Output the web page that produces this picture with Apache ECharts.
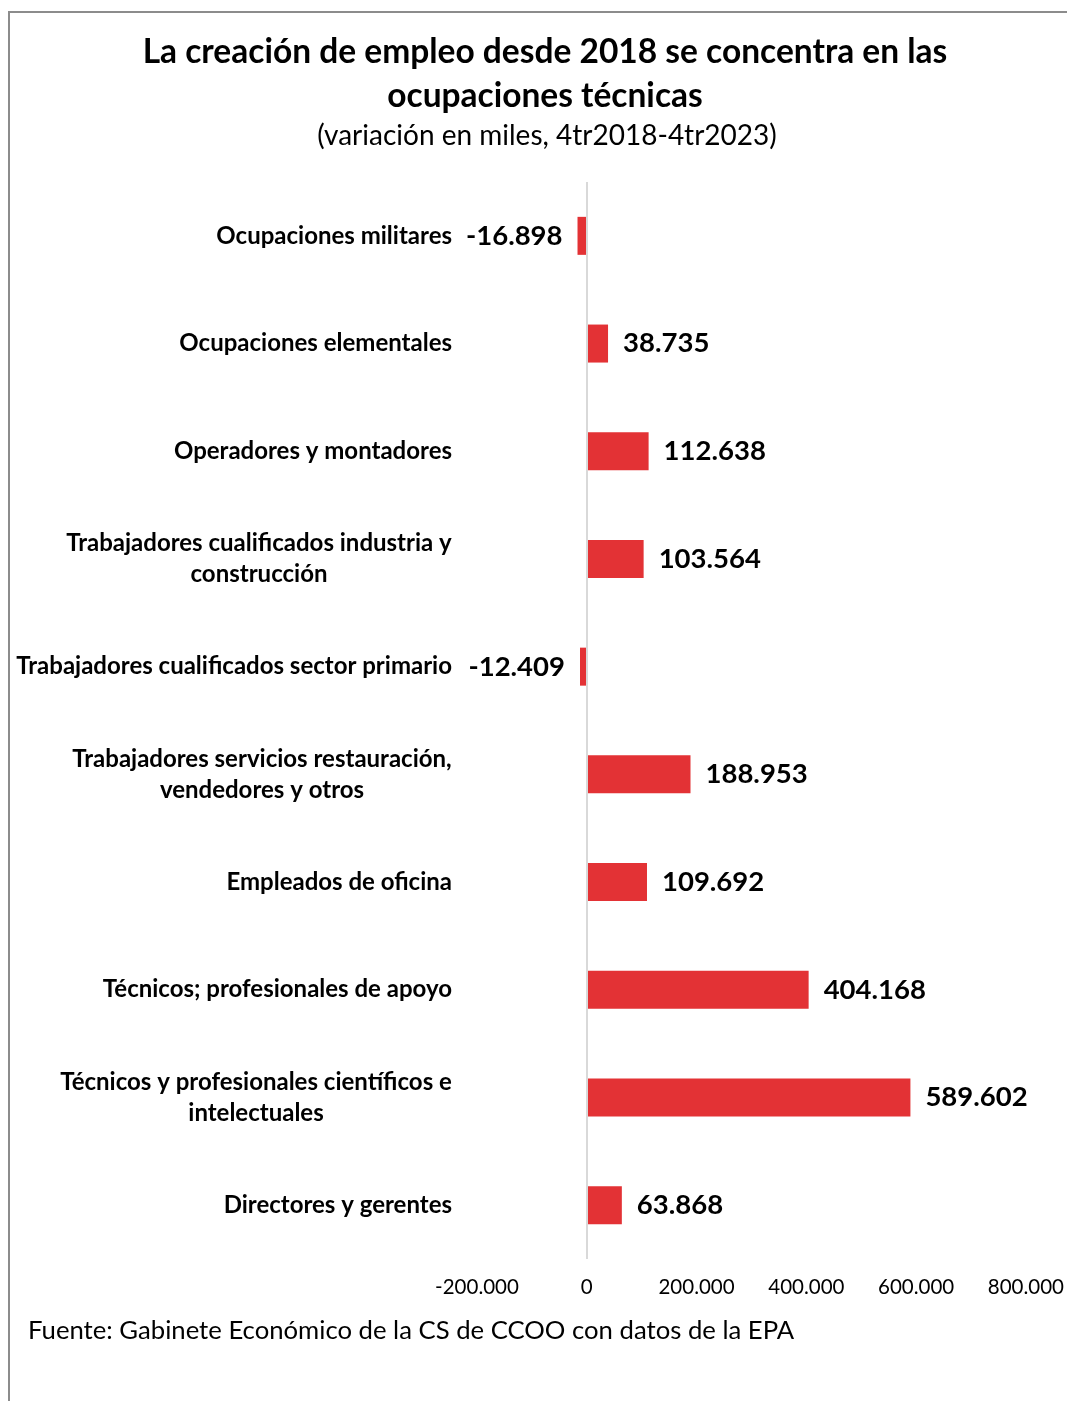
<!DOCTYPE html>
<html>
<head>
<meta charset="utf-8">
<script src="https://cdn.jsdelivr.net/npm/echarts@6/dist/echarts.min.js"></script>
<style>
  html, body { margin: 0; padding: 0; background: #fff; }
  #frame {
    position: absolute; left: 8px; top: 11px; width: 1059px; height: 1390px;
    border-left: 2px solid #8c8c8c; border-top: 2px solid #8c8c8c;
  }
  #chart { position: absolute; left: 0; top: 0; width: 1067px; height: 1401px; }
</style>
</head>
<body>
<div id="frame"></div>
<div id="chart"></div>
<script>
// categories, top to bottom
const categories = [
  'Ocupaciones militares',
  'Ocupaciones elementales',
  'Operadores y montadores',
  'Trabajadores cualificados industria y\nconstrucción',
  'Trabajadores cualificados sector primario',
  'Trabajadores servicios restauración,\nvendedores y otros',
  'Empleados de oficina',
  'Técnicos; profesionales de apoyo',
  'Técnicos y profesionales científicos e\nintelectuales',
  'Directores y gerentes'
]
// variación en miles, 4tr2018-4tr2023
const values = [-16898, 38735, 112638, 103564, -12409, 188953, 109692, 404168, 589602, 63868]
const xTicks = [-200000, 0, 200000, 400000, 600000, 800000]

const FONT = 'Lato'
const CAT_SIZE = 24

function fmt (v) {
  const s = String(Math.abs(v)).replace(/\B(?=(\d{3})+(?!\d))/g, '.')
  return (v < 0 ? '-' : '') + s
}

// two-line labels: lines centred inside a block that is right aligned
const ctx = document.createElement('canvas').getContext('2d')
ctx.font = 'bold ' + CAT_SIZE + 'px ' + FONT
function blockWidth (val) {
  return Math.ceil(Math.max(...val.split('\n').map(l => ctx.measureText(l).width)))
}
function catLabel (val) {
  if (val.indexOf('\n') < 0) return val
  const w = blockWidth(val)
  return val.split('\n').map(l => '{c' + w + '|' + l + '}').join('\n')
}
const rich = {}
categories.forEach(c => {
  if (c.indexOf('\n') < 0) return
  const w = blockWidth(c)
  rich['c' + w] = {
    width: w, align: 'center', fontFamily: FONT, fontSize: CAT_SIZE,
    fontWeight: 'bold', color: '#000', lineHeight: 31
  }
})

const chart = echarts.init(document.getElementById('chart'))
chart.setOption({
  animation: false,
  textStyle: { fontFamily: FONT },
  title: [
    {
      text: 'La creación de empleo desde 2018 se concentra en las\nocupaciones técnicas',
      left: 540,
      top: 25,
      textAlign: 'center',
      textStyle: { fontFamily: FONT, fontSize: 33.5, fontWeight: 'bold', color: '#000', lineHeight: 44 }
    },
    {
      text: '(variación en miles, 4tr2018-4tr2023)',
      left: 542,
      top: 117,
      textAlign: 'center',
      textStyle: { fontFamily: FONT, fontSize: 28, fontWeight: 'normal', color: '#000' }
    },
    {
      text: 'Fuente: Gabinete Económico de la CS de CCOO con datos de la EPA',
      left: 23,
      top: 1313,
      textStyle: { fontFamily: FONT, fontSize: 25.7, fontWeight: 'normal', color: '#000' }
    }
  ],
  grid: { left: 477, right: 38, top: 182, bottom: 142, containLabel: false },
  xAxis: {
    type: 'value',
    min: xTicks[0],
    max: xTicks[xTicks.length - 1],
    interval: 200000,
    axisLine: { show: false },
    axisTick: { show: false },
    splitLine: { show: false },
    axisLabel: {
      margin: 18,
      fontFamily: FONT,
      fontSize: 20.5,
      color: '#000',
      formatter: v => fmt(v)
    }
  },
  yAxis: {
    type: 'category',
    inverse: true,
    data: categories,
    axisLine: { show: false, onZero: false },
    axisTick: { show: false },
    axisLabel: {
      margin: 25,
      fontFamily: FONT,
      fontSize: CAT_SIZE,
      fontWeight: 'bold',
      color: '#000',
      align: 'right',
      lineHeight: 31,
      formatter: catLabel,
      rich: rich
    }
  },
  series: [{
    type: 'bar',
    barWidth: 38,
    itemStyle: { color: '#e33235' },
    data: values.map(v => ({
      value: v,
      label: { position: v < 0 ? 'left' : 'right' }
    })),
    label: {
      show: true,
      distance: 15,
      fontFamily: FONT,
      fontSize: 27.5,
      fontWeight: 'bold',
      color: '#000',
      formatter: p => fmt(p.value)
    },
    markLine: {
      silent: true,
      symbol: 'none',
      label: { show: false },
      lineStyle: { color: '#d9d9d9', width: 2, type: 'solid' },
      data: [{ xAxis: 0 }]
    }
  }]
})
</script>
</body>
</html>
